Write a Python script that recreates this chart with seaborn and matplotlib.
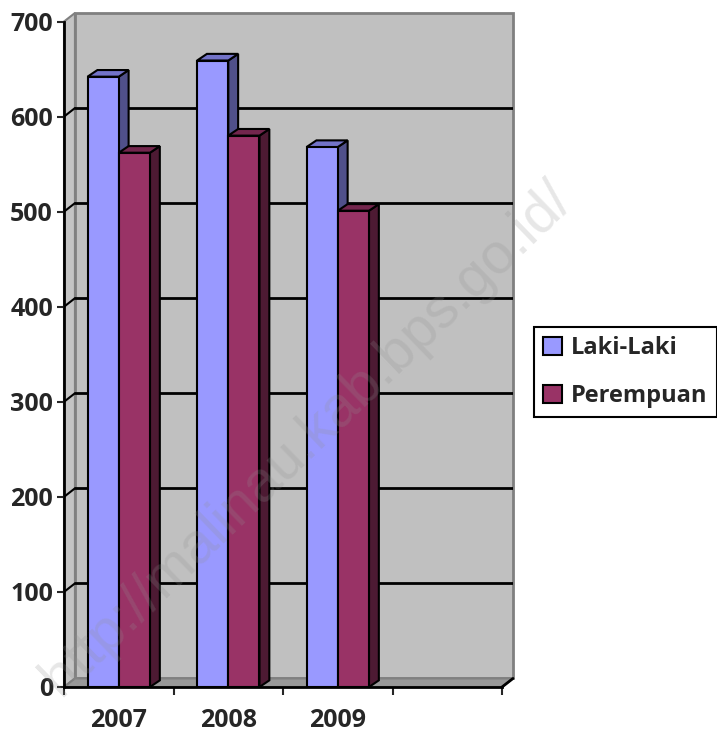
import pandas as pd
import matplotlib
matplotlib.use("Agg")
import matplotlib.pyplot as plt
from matplotlib.patches import Polygon, Rectangle, Patch
import seaborn as sns

# Data
years = ["2007", "2008", "2009"]
laki_laki = [642, 659, 568]
perempuan = [562, 580, 501]
series = ["Laki-Laki", "Perempuan"]
y_ticks = [0, 100, 200, 300, 400, 500, 600, 700]

# Colours: front face, side face, top face
front = ["#9999FF", "#993366"]
side = ["#50508A", "#4D1A33"]
top = ["#7373C8", "#73264D"]

df = pd.DataFrame({
    "Tahun": years * 2,
    "Jenis Kelamin": [series[0]] * len(years) + [series[1]] * len(years),
    "Jumlah": laki_laki + perempuan,
})

sns.set_style("white")
plt.rcParams["font.family"] = ["Open Sans", "DejaVu Sans"]
plt.rcParams["font.weight"] = "bold"

fig = plt.figure(figsize=(7.17, 7.33), dpi=100)
ax = fig.add_axes([64 / 717, 46 / 733, 449 / 717, 674 / 733])

sns.barplot(data=df, x="Tahun", y="Jumlah", hue="Jenis Kelamin",
            palette=front, width=0.57, saturation=1,
            edgecolor="black", linewidth=1.5, legend=False, ax=ax)
bars = list(ax.patches)

# 3D depth (wall and bars)
dxw, dyw = 0.1, 9
dxb, dyb = 0.09, 7
ymax = 700

ax.set_xlim(-0.5, 3.5 + dxw)
ax.set_ylim(0, ymax + dyw)

# walls and floor
ax.add_patch(Rectangle((-0.5 + dxw, dyw), 4, ymax, fc="#C0C0C0", ec="#808080",
                       lw=2, zorder=0.5, clip_on=False))
ax.add_patch(Polygon([(-0.5, 0), (-0.5 + dxw, dyw), (-0.5 + dxw, ymax + dyw), (-0.5, ymax)],
                     closed=True, fc="#C4C4C4", ec="#808080", lw=1.5, zorder=0.6, clip_on=False))
ax.add_patch(Polygon([(-0.5, 0), (3.5, 0), (3.5 + dxw, dyw), (-0.5 + dxw, dyw)],
                     closed=True, fc="#999999", ec="#808080", lw=1.5, zorder=0.6, clip_on=False))

# gridlines on back and side wall
for v in y_ticks[1:-1]:
    ax.plot([-0.5 + dxw, 3.5 + dxw], [v + dyw, v + dyw], color="black", lw=2, zorder=1)
    ax.plot([-0.5, -0.5 + dxw], [v, v + dyw], color="black", lw=1.5, zorder=1)
ax.plot([3.5, 3.5 + dxw], [0, dyw], color="black", lw=2, zorder=1, clip_on=False)

# side and top faces of each bar
n = len(years)
order = sorted(range(len(bars)), key=lambda i: bars[i].get_x())
for k, i in enumerate(order):
    p = bars[i]
    c = i // n
    x0, w, h = p.get_x(), p.get_width(), p.get_height()
    z = 2 + k * 0.1
    p.set_zorder(z + 0.05)
    ax.add_patch(Polygon([(x0 + w, 0), (x0 + w + dxb, dyb), (x0 + w + dxb, h + dyb), (x0 + w, h)],
                         closed=True, fc=side[c], ec="black", lw=1.5, zorder=z))
    ax.add_patch(Polygon([(x0, h), (x0 + w, h), (x0 + w + dxb, h + dyb), (x0 + dxb, h + dyb)],
                         closed=True, fc=top[c], ec="black", lw=1.5, zorder=z))

# axes
sns.despine(ax=ax, top=True, right=True)
for s in ["left", "bottom"]:
    ax.spines[s].set_linewidth(2)
    ax.spines[s].set_color("black")
    ax.spines[s].set_zorder(5)
ax.spines["left"].set_bounds(0, ymax)
ax.spines["bottom"].set_bounds(-0.5, 3.5)

ax.set_yticks(y_ticks)
ax.set_xticks(range(n))
ax.set_xticklabels(years)
ax.set_xticks([-0.5, 0.5, 1.5, 2.5, 3.5], minor=True)
ax.tick_params(axis="y", left=True, length=5, width=1.5, pad=3, labelsize=18)
ax.tick_params(axis="x", which="major", bottom=True, length=0, pad=15, labelsize=18)
ax.tick_params(axis="x", which="minor", bottom=True, length=6, width=1.5)
for lab in ax.get_xticklabels() + ax.get_yticklabels():
    lab.set_fontweight("bold")
ax.set_xlabel("")
ax.set_ylabel("")

handles = [Patch(facecolor=front[i], edgecolor="black", lw=1.5) for i in range(2)]
leg = fig.legend(handles, series, loc="center left", bbox_to_anchor=(534 / 717, 361 / 733),
                 frameon=True, fancybox=False, edgecolor="black", framealpha=1,
                 prop={"weight": "bold", "size": 17}, handlelength=0.8, handleheight=0.8,
                 handletextpad=0.35, borderpad=0.4, labelspacing=1.0, borderaxespad=0)
leg.get_frame().set_linewidth(1.5)

# watermark
fig.text(307 / 717, 294 / 733, "http://malinau.kab.bps.go.id/", rotation=44,
         rotation_mode="anchor", ha="center", va="center", fontsize=41,
         family="Liberation Sans", fontweight="normal", color="#909090", alpha=0.22, zorder=10)

fig.savefig("out.png", dpi=100)
